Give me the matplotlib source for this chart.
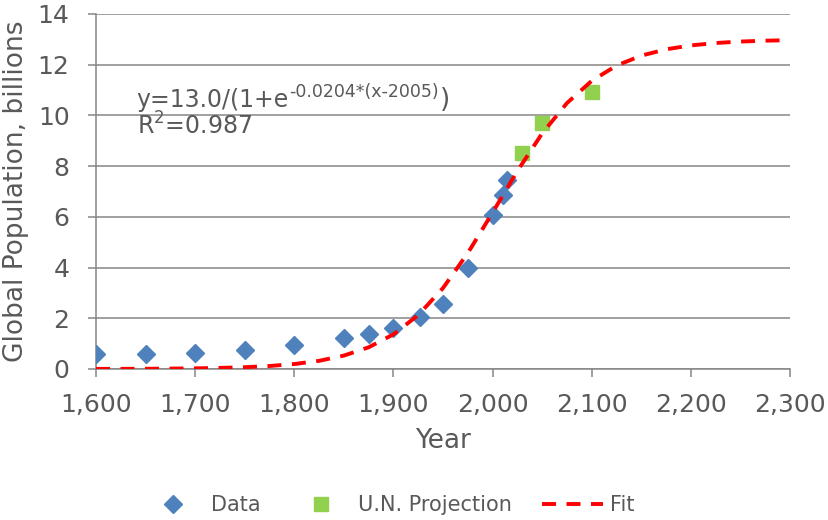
#!/usr/bin/env python3
# -*- coding: utf-8 -*-

import matplotlib
matplotlib.use("Agg")
import matplotlib.pyplot as plt
from matplotlib.ticker import FuncFormatter

# observed world population (billions)
data_year = [1600, 1650, 1700, 1750, 1800, 1850, 1875, 1900, 1927, 1950,
             1975, 2000, 2010, 2015]
data_pop = [0.58, 0.58, 0.62, 0.75, 0.93, 1.21, 1.37, 1.60, 2.04, 2.56,
            4.00, 6.07, 6.86, 7.45]

# U.N. projection
un_year = [2030, 2050, 2100]
un_pop = [8.50, 9.69, 10.91]

# logistic fit, read every 25 years
fit_year = [1600, 1625, 1650, 1675, 1700, 1725, 1750, 1775, 1800, 1825,
            1850, 1875, 1900, 1925, 1950, 1975, 2000, 2025, 2050, 2075,
            2100, 2125, 2150, 2175, 2200, 2225, 2250, 2275, 2300]
fit_pop = [0.003, 0.006, 0.009, 0.016, 0.026, 0.043, 0.071, 0.118, 0.196,
           0.322, 0.528, 0.856, 1.366, 2.126, 3.193, 4.571, 6.169, 7.808,
           9.291, 10.486, 11.364, 11.965, 12.358, 12.607, 12.761, 12.855,
           12.913, 12.947, 12.968]

txt = "#595959"
grid = "#868686"
plt.rcParams["font.family"] = ["DejaVu Sans"]

f = plt.figure(figsize=(8.29, 5.2), dpi=100)
ax = f.add_axes([0.1158, 0.2904, 0.8372, 0.6827])

ax.plot(data_year, data_pop, ls="none", marker="D", ms=9,
        color="#4F81BD", label="Data", zorder=3)
ax.plot(un_year, un_pop, ls="none", marker="s", ms=10.5,
        color="#92D050", label="U.N. Projection", zorder=3)
ax.plot(fit_year, fit_pop, color="#FF0000", lw=2.8, ls=(0, (3.6, 2.7)),
        label="Fit", zorder=4)

ax.set_xlim(1600, 2300)
ax.set_ylim(0, 14)
ax.set_xticks(range(1600, 2301, 100))
ax.set_yticks(range(0, 15, 2))
ax.xaxis.set_major_formatter(FuncFormatter(lambda v, p: f"{int(v):,}"))

ax.grid(True, axis="y", color=grid, lw=1.1)
ax.set_axisbelow(True)
for s in ["top", "right"]:
    ax.spines[s].set_visible(False)
for s in ["left", "bottom"]:
    ax.spines[s].set_color(grid)
    ax.spines[s].set_linewidth(1.1)

ax.tick_params(axis="both", colors=grid, labelcolor=txt, labelsize=18,
               length=6, width=1.1, direction="out")
ax.tick_params(axis="x", pad=11)
ax.tick_params(axis="y", pad=13)

ax.set_xlabel("Year", fontsize=19, color=txt, labelpad=8)
ax.set_ylabel("Global Population, billions", fontsize=19, color=txt,
              labelpad=6)

# fit equation with a raised exponent
t1 = ax.text(1641, 10.33, "y=13.0/(1+e", fontsize=17, color=txt,
             va="baseline")
t2 = ax.annotate("-0.0204*(x-2005)", xy=(1, 0), xycoords=t1,
                 xytext=(0.5, 8), textcoords="offset points",
                 fontsize=12.5, color=txt, va="bottom")
ax.annotate(")", xy=(1, 0), xycoords=(t2, t1), xytext=(0.5, -0.5),
            textcoords="offset points", fontsize=19, color=txt,
            va="bottom")
ax.text(1641, 9.23, r"R$^{\mathregular{2}}$=0.987", fontsize=17,
        color=txt, va="baseline")

f.legend(loc="center left", bbox_to_anchor=(143 / 829, 1 - 505 / 520),
         ncol=3, frameon=False, fontsize=15, labelcolor=txt,
         handlelength=2.9, handletextpad=0.35, columnspacing=1.45,
         borderpad=0, borderaxespad=0, numpoints=1)

f.savefig("out.png", dpi=100)
plt.close()
